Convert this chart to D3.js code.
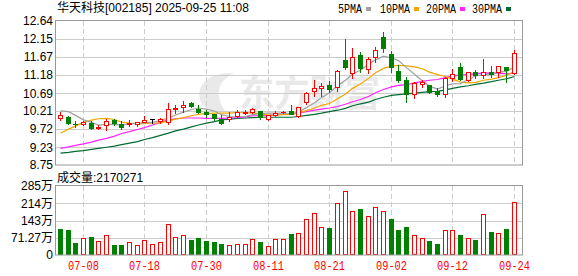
<!DOCTYPE html>
<html>
<head>
<meta charset="utf-8">
<script src="https://cdn.jsdelivr.net/npm/d3@7"></script>
<style>
    body { margin: 0; background: #fff; }
    svg { display: block; font-family: "Liberation Sans", Arial, "Noto Sans CJK SC", sans-serif; }
</style>
</head>
<body>
<svg id="chart" width="578" height="276"></svg>
<script>
// daily bars, 07-03 .. 09-24
const dates = ["07-03","07-04","07-07","07-08","07-09","07-10","07-11","07-14","07-15","07-16",
    "07-17","07-18","07-21","07-22","07-23","07-24","07-25","07-28","07-29","07-30",
    "07-31","08-01","08-04","08-05","08-06","08-07","08-08","08-11","08-12","08-13",
    "08-14","08-15","08-18","08-19","08-20","08-21","08-22","08-25","08-26","08-27",
    "08-28","08-29","09-01","09-02","09-03","09-04","09-05","09-08","09-09","09-10",
    "09-11","09-12","09-15","09-16","09-17","09-18","09-19","09-22","09-23","09-24"];

const open = [10.03,10.04,9.87,9.87,9.89,9.76,9.82,9.96,9.86,9.87,
    9.85,9.92,9.98,9.94,9.92,10.25,10.33,10.42,10.26,10.17,
    10.12,10.00,9.98,10.08,10.15,10.17,10.21,9.98,10.10,10.18,
    10.20,10.08,10.46,10.76,10.84,10.91,10.85,11.59,11.23,11.72,
    11.34,11.66,12.20,11.74,11.29,11.05,10.68,10.93,10.91,10.76,
    10.67,11.11,11.39,11.05,11.25,11.17,11.27,11.27,11.40,11.23];

const close = [10.10,9.88,9.85,9.90,9.75,9.78,9.95,9.89,9.78,9.89,
    9.90,9.97,9.98,10.00,10.26,10.28,10.37,10.35,10.19,10.13,
    10.01,9.89,10.06,10.17,10.19,10.25,10.05,10.09,10.16,10.19,
    10.14,10.31,10.69,10.82,10.88,10.79,11.29,11.41,11.68,11.38,
    11.61,11.86,11.92,11.41,11.05,10.67,10.97,10.98,10.71,10.68,
    11.11,11.20,11.07,11.25,11.18,11.26,11.21,11.42,11.32,11.77];

const high = [10.17,10.08,9.94,9.95,9.94,9.83,9.98,9.99,9.94,9.96,
    9.90,10.08,9.98,10.03,10.42,10.37,10.47,10.45,10.37,10.24,
    10.12,10.10,10.18,10.24,10.24,10.30,10.22,10.10,10.22,10.22,
    10.37,10.33,10.73,11.05,10.97,11.02,11.32,12.15,11.92,11.81,
    11.68,11.95,12.33,11.83,11.45,11.14,10.98,11.04,10.91,10.82,
    11.12,11.34,11.50,11.25,11.32,11.61,11.42,11.42,11.40,11.86];

const low = [9.97,9.86,9.79,9.83,9.72,9.72,9.70,9.83,9.72,9.80,
    9.81,9.90,9.89,9.89,9.87,10.16,10.17,10.32,10.15,10.06,
    9.97,9.87,9.95,10.06,10.12,10.15,10.00,9.97,10.08,10.15,
    10.12,10.05,10.40,10.61,10.61,10.73,10.76,11.34,11.11,11.27,
    11.23,11.54,11.79,11.26,11.00,10.46,10.57,10.86,10.69,10.62,
    10.58,11.03,11.05,11.03,11.09,11.11,11.12,11.14,11.00,11.22];

// close of the day before 07-03 (only used for the first volume colour)
const prevClose = 10.18;

// volume, in 万 shares
const volume = [107,103,50,70,74,58,81,41,41,54,
    40,62,45,54,127,73,81,62,70,58,
    54,45,40,45,45,65,54,36,65,65,
    87,89,147,172,114,112,213,263,180,190,
    160,197,180,149,103,116,81,69,58,45,
    102,102,83,69,62,169,95,91,107,217.03];

const ma5 = [10.21,10.19,10.09,9.97,9.90,9.83,9.85,9.85,9.83,9.86,
    9.88,9.89,9.90,9.95,10.02,10.10,10.18,10.25,10.29,10.26,
    10.21,10.11,10.06,10.05,10.06,10.11,10.14,10.15,10.15,10.15,
    10.13,10.18,10.30,10.43,10.57,10.70,10.89,11.04,11.21,11.31,
    11.47,11.59,11.69,11.64,11.57,11.38,11.20,11.02,10.88,10.80,
    10.89,10.94,10.95,11.06,11.16,11.19,11.19,11.26,11.28,11.40];

const ma10 = [9.61,9.72,9.80,9.90,9.96,10.00,10.01,9.98,9.91,9.88,
    9.86,9.87,9.88,9.89,9.94,9.99,10.03,10.08,10.12,10.14,
    10.15,10.15,10.15,10.17,10.16,10.16,10.13,10.10,10.10,10.11,
    10.12,10.16,10.22,10.29,10.36,10.41,10.54,10.67,10.82,10.94,
    11.09,11.24,11.36,11.42,11.44,11.43,11.40,11.35,11.26,11.19,
    11.14,11.07,10.99,10.97,10.98,11.04,11.07,11.11,11.17,11.28];

const ma20 = [9.20,9.24,9.28,9.32,9.37,9.42,9.47,9.53,9.60,9.65,
    9.71,9.76,9.83,9.90,9.97,10.00,10.02,10.02,10.02,10.01,
    10.01,10.01,10.02,10.03,10.05,10.08,10.08,10.09,10.11,10.13,
    10.14,10.15,10.19,10.23,10.26,10.29,10.33,10.39,10.46,10.52,
    10.60,10.70,10.79,10.86,10.90,10.92,10.97,11.01,11.04,11.06,
    11.11,11.16,11.18,11.20,11.21,11.24,11.23,11.23,11.21,11.23];

const ma30 = [9.07,9.09,9.12,9.14,9.17,9.20,9.23,9.26,9.30,9.34,
    9.38,9.44,9.49,9.55,9.61,9.67,9.72,9.78,9.83,9.88,
    9.92,9.97,9.99,10.01,10.02,10.03,10.04,10.04,10.04,10.04,
    10.04,10.06,10.09,10.12,10.15,10.19,10.23,10.28,10.35,10.40,
    10.45,10.52,10.58,10.63,10.65,10.67,10.69,10.71,10.73,10.74,
    10.78,10.82,10.86,10.89,10.93,10.96,11.00,11.04,11.08,11.14];

const maNames = ["5PMA", "10PMA", "20PMA", "30PMA"];
const maColors = ["#a0a0a0", "#f2a600", "#ff22ff", "#006b33"];

const priceTicks = [12.64, 12.15, 11.67, 11.18, 10.69, 10.21, 9.72, 9.23, 8.75];
const volMax = 285.08;
const volTicks = [285.08, 213.81, 142.54, 71.27, 0];
const volTickLabels = ["285万", "214万", "143万", "71.27万", "0"];
const dateTicks = ["07-08", "07-18", "07-30", "08-11", "08-21", "09-02", "09-12", "09-24"];

const stockTitle = "华天科技[002185] 2025-09-25 11:08";
const volTitle = "成交量:2170271";

// ---- layout ----
const plotL = 55, plotR = 522;
const mainTop = 21, mainBot = 165;
const volTop = 186, volBot = 255;
const RED = "#ff0000", GREEN = "#008000";

const svg = d3.select("#chart");

const x = d3.scaleBand().domain(d3.range(dates.length)).range([56.5, 518.2]);
const cx = i => Math.floor(x(i) + x.bandwidth() / 2);
const y = d3.scaleLinear().domain([8.75, 12.64]).range([mainBot, mainTop]);
const yv = d3.scaleLinear().domain([0, volMax]).range([volBot, volTop]);

// watermark
const wm = svg.append("g").attr("fill", "#e9e9e9");
wm.append("path")
    .attr("d", "M200,100 C196,84 210,72 234,73 C220,80 213,92 225,111 C212,112 202,108 200,100 Z");
wm.append("text")
    .attr("x", 239).attr("y", 107)
    .attr("textLength", 141)
    .attr("lengthAdjust", "spacingAndGlyphs")
    .style("font-family", "'Noto Sans CJK SC', sans-serif")
    .style("font-size", "37px").style("font-weight", "bold")
    .text("东方财富");

// grids
function hGrid(vals, scale) {
    svg.append("g").selectAll("line")
        .data(vals.slice(1, -1))
        .join("line")
        .attr("x1", plotL).attr("x2", plotR)
        .attr("y1", d => Math.round(scale(d)) + 0.5)
        .attr("y2", d => Math.round(scale(d)) + 0.5)
        .attr("stroke", "#cccccc");
}
hGrid(priceTicks, y);
hGrid(volTicks, yv);

const tickIdx = dateTicks.map(d => dates.indexOf(d));
[[mainTop, mainBot], [volTop, volBot]].forEach(([t, b]) => {
    svg.append("g").selectAll("line")
        .data(tickIdx)
        .join("line")
        .attr("x1", i => cx(i) + 0.5).attr("x2", i => cx(i) + 0.5)
        .attr("y1", t).attr("y2", b)
        .attr("stroke", "#cccccc")
        .attr("stroke-dasharray", "5,3");
});

// moving averages
const line = d3.line().x((d, i) => cx(i) + 0.5).y(d => y(d));
[ma30, ma20, ma10, ma5].forEach((arr, k) => {
    svg.append("path")
        .datum(arr)
        .attr("d", line)
        .attr("fill", "none")
        .attr("stroke", maColors[3 - k])
        .attr("stroke-width", 1.2);
});

// candles
const candles = svg.append("g").attr("shape-rendering", "crispEdges");
dates.forEach((d, i) => {
    const c = cx(i);
    const o = open[i], cl = close[i];
    const col = cl > o ? RED : (cl < o ? GREEN : "#000");
    candles.append("line")
        .attr("x1", c + 0.5).attr("x2", c + 0.5)
        .attr("y1", Math.round(y(high[i]))).attr("y2", Math.round(y(low[i])) + 1)
        .attr("stroke", col);
    const top = Math.round(y(Math.max(o, cl)));
    const bot = Math.round(y(Math.min(o, cl)));
    if (cl > o && bot - top >= 2) {
        candles.append("rect")
            .attr("x", c - 1.5).attr("y", top + 0.5)
            .attr("width", 4).attr("height", bot - top)
            .attr("fill", "#fff").attr("stroke", RED);
    } else {
        candles.append("rect")
            .attr("x", c - 2).attr("y", top)
            .attr("width", 5).attr("height", Math.max(bot - top + 1, 1))
            .attr("fill", col);
    }
});

// volume bars (colour by close vs previous close)
const vol = svg.append("g").attr("shape-rendering", "crispEdges");
volume.forEach((v, i) => {
    const c = cx(i);
    const up = close[i] >= (i === 0 ? prevClose : close[i - 1]);
    const top = Math.round(yv(v));
    if (up) {
        vol.append("rect")
            .attr("x", c - 1.5).attr("y", top + 0.5)
            .attr("width", 4).attr("height", volBot - 1 - top)
            .attr("fill", "#fff").attr("stroke", RED);
    } else {
        vol.append("rect")
            .attr("x", c - 2).attr("y", top)
            .attr("width", 5).attr("height", volBot - top)
            .attr("fill", GREEN);
    }
});

// frames
[[mainTop, mainBot], [volTop, volBot]].forEach(([t, b]) => {
    svg.append("rect")
        .attr("x", plotL + 0.5).attr("y", t - 0.5)
        .attr("width", plotR - plotL).attr("height", b - t + 0.5)
        .attr("fill", "none").attr("stroke", "#999999");
});

// axes
const yAxis = svg.append("g")
    .attr("transform", `translate(${plotL},0)`)
    .call(d3.axisLeft(y).tickValues(priceTicks).tickFormat(d3.format(".2f")).tickSize(0).tickPadding(2));
const vAxis = svg.append("g")
    .attr("transform", `translate(${plotL},0)`)
    .call(d3.axisLeft(yv).tickValues(volTicks).tickFormat((d, i) => volTickLabels[i]).tickSize(0).tickPadding(2));
[yAxis, vAxis].forEach(a => {
    a.select(".domain").remove();
    a.selectAll("text")
        .attr("fill", "#000")
        .style("font-family", "'Liberation Sans', 'Noto Sans CJK SC', sans-serif")
        .style("font-size", "12px");
});

const xAxis = svg.append("g")
    .attr("transform", `translate(0,${volBot})`)
    .call(d3.axisBottom(x).tickValues(tickIdx).tickFormat(i => dates[i]).tickSize(0).tickPadding(6.5));
xAxis.select(".domain").remove();
xAxis.selectAll(".tick").attr("transform", i => `translate(${cx(i) + 0.5},0)`);
xAxis.selectAll("text")
    .attr("fill", RED)
    .attr("textLength", 31)
    .attr("lengthAdjust", "spacingAndGlyphs")
    .style("font-family", "'Liberation Mono', monospace")
    .style("font-size", "12.5px");

// titles
svg.append("text")
    .attr("x", 57).attr("y", 12)
    .style("font-size", "12px")
    .text(stockTitle);
svg.append("text")
    .attr("x", 57).attr("y", 182)
    .style("font-size", "12px")
    .text(volTitle);

// legend
const legendX = [338, 380, 426, 472];
maNames.forEach((n, k) => {
    svg.append("text")
        .attr("x", legendX[k]).attr("y", 13)
        .attr("textLength", n.length * 6)
        .attr("lengthAdjust", "spacingAndGlyphs")
        .style("font-family", "'Liberation Mono', monospace")
        .style("font-size", "12.5px")
        .text(n);
    svg.append("rect")
        .attr("x", legendX[k] + n.length * 6 + 4).attr("y", 7)
        .attr("width", 5).attr("height", 4)
        .attr("fill", maColors[k]);
});
</script>
</body>
</html>
